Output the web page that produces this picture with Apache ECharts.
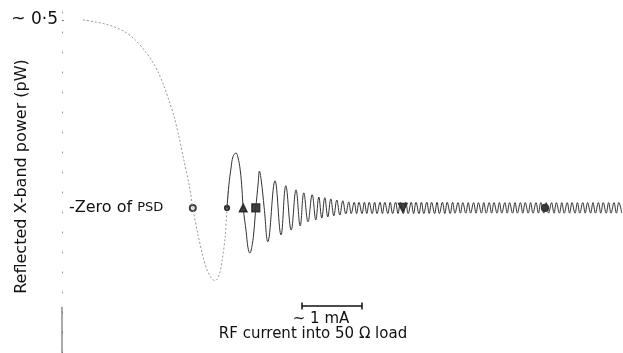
<!DOCTYPE html>
<html>
<head>
<meta charset="utf-8">
<script src="https://cdn.jsdelivr.net/npm/echarts@6/dist/echarts.min.js"></script>
<style>
html,body{margin:0;padding:0;background:#fff}
#chart{width:623px;height:353px}
</style>
</head>
<body>
<div id="chart"></div>
<script>
// x in mA, y in pW (zero = zero of PSD)
var decay=[[0.35,0.500],[0.55,0.495],[0.72,0.489],[0.88,0.481],[1.05,0.468],[1.22,0.447],[1.38,0.418],[1.50,0.391],
    [1.60,0.362],[1.70,0.324],[1.78,0.287],[1.87,0.242],[1.95,0.189],[2.03,0.128],[2.12,0.061],[2.18,0],
    [2.27,-0.074],[2.35,-0.130],[2.43,-0.170],[2.50,-0.189],[2.55,-0.194],[2.62,-0.178],[2.67,-0.138],[2.72,-0.077],
    [2.75,0],[2.78,0.059]];

var ringing=[[2.75,0],[2.78,0.059],[2.82,0.109],[2.85,0.136],[2.90,0.146],[2.93,0.136],[2.97,0.101],[3.00,0.048],
    [3.02,0],[3.07,-0.064],[3.10,-0.106],[3.13,-0.120],[3.17,-0.098],[3.20,-0.059],[3.23,0],[3.27,0.066],[3.29,0.098],
    [3.32,0.074],[3.37,0],[3.43,-0.090],
    [3.55,0.072],[3.65,-0.072],[3.73,0.059],[3.82,-0.059],[3.90,0.048],[3.97,-0.048],[4.03,0.040],[4.10,-0.037],
    [4.17,0.035],[4.23,-0.032],[4.28,0.029],[4.33,-0.027],[4.38,0.027],[4.43,-0.024],[4.48,0.024],[4.53,-0.021],
    [4.58,0.021],[4.63,-0.019],[4.68,0.019],[4.73,-0.016],[4.78,0.016]];

var tail=[[4.82,-0.015],[4.87,0.015],[4.91,-0.015],[4.95,0.015],[5.00,-0.015],[5.04,0.015],[5.08,-0.015],[5.12,0.015],
    [5.17,-0.015],[5.21,0.015],[5.25,-0.015],[5.30,0.015],[5.34,-0.015],[5.38,0.015],[5.43,-0.015],[5.47,0.015],
    [5.51,-0.015],[5.56,0.015],[5.60,-0.015],[5.64,0.015],[5.69,-0.015],[5.73,0.015],[5.77,-0.015],[5.82,0.015],
    [5.86,-0.015],[5.90,0.015],[5.95,-0.015],[5.99,0.015],[6.03,-0.015],[6.08,0.015],[6.12,-0.015],[6.16,0.015],
    [6.21,-0.015],[6.25,0.015],[6.29,-0.015],[6.34,0.015],[6.38,-0.015],[6.42,0.015],[6.47,-0.015],[6.51,0.015],
    [6.55,-0.014],[6.60,0.014],[6.64,-0.014],[6.68,0.014],[6.73,-0.014],[6.77,0.014],[6.81,-0.014],[6.86,0.014],
    [6.90,-0.014],[6.94,0.014],[6.99,-0.014],[7.03,0.014],[7.07,-0.014],[7.12,0.014],[7.16,-0.014],[7.20,0.014],
    [7.25,-0.014],[7.29,0.014],[7.33,-0.014],[7.38,0.014],[7.42,-0.014],[7.46,0.014],[7.51,-0.014],[7.55,0.014],
    [7.59,-0.014],[7.64,0.014],[7.68,-0.014],[7.72,0.014],[7.77,-0.014],[7.81,0.014],[7.85,-0.014],[7.90,0.014],
    [7.94,-0.014],[7.98,0.014],[8.03,-0.014],[8.07,0.014],[8.11,-0.014],[8.16,0.014],[8.20,-0.014],[8.24,0.014],
    [8.29,-0.014],[8.33,0.014],[8.37,-0.014],[8.42,0.014],[8.46,-0.014],[8.50,0.014],[8.55,-0.014],[8.59,0.014],
    [8.63,-0.014],[8.68,0.014],[8.72,-0.014],[8.76,0.014],[8.81,-0.014],[8.85,0.014],[8.89,-0.014],[8.94,0.014],
    [8.98,-0.014],[9.02,0.014],[9.07,-0.014],[9.11,0.014],[9.15,-0.014],[9.20,0.014],[9.24,-0.014],[9.28,0.014],
    [9.33,-0.014]];

var markerX=[2.18,2.75,3.02,3.23,5.68,8.05];
var markerSymbols=['emptyCircle','circle','triangle','rect','triangle','circle'];
var markerSizes=[6,5,8,8,9,7];
var markerRotate=[0,0,0,0,180,0];

var scaleBar=[[4,-0.261],[5,-0.261]];
var axisStub=[[0,-0.263],[0,-0.386]];
var yLabelTicks=[0.5];
var zeroTicks=[0];

var xMin=0, xMax=9.35, yMin=-0.386, yMax=0.553;
var font='DejaVu Sans';

var chart=echarts.init(document.getElementById('chart'));
var option={
    animation:false,
    backgroundColor:'#fff',
    grid:{left:62,right:0,top:0,bottom:0,containLabel:false,outerBoundsMode:'none'},
    xAxis:{type:'value',min:xMin,max:xMax,show:false},
    yAxis:[{
        type:'value',min:yMin,max:yMax,position:'left',
        axisLine:{show:true,lineStyle:{color:'#999',width:1,type:[1,19]}},
        axisTick:{show:true,customValues:yLabelTicks,length:2,inside:true,lineStyle:{color:'#777'}},
        splitLine:{show:false},
        axisLabel:{
            customValues:yLabelTicks,
            margin:4,
            color:'#111',
            fontFamily:font,
            fontSize:17,
            formatter:function(v){return '~ 0·5';}
        },
        name:'Reflected X-band power (pW)',
        nameLocation:'middle',
        nameGap:32,
        nameMoveOverlap:false,
        nameTextStyle:{color:'#111',fontFamily:font,fontSize:16}
    },{
        type:'value',min:yMin,max:yMax,position:'left',
        axisLine:{show:false},axisTick:{show:false},splitLine:{show:false},
        axisLabel:{
            customValues:zeroTicks,
            inside:true,
            margin:7,
            formatter:function(v){return '{a|-Zero of }{b|PSD}';},
            rich:{
                a:{color:'#111',fontFamily:font,fontSize:16},
                b:{color:'#111',fontFamily:font,fontSize:13}
            }
        }
    }],
    graphic:[{
        type:'text',x:313,y:334,
        style:{text:'RF current into 50 Ω load',fill:'#111',font:'15px "DejaVu Sans"',textAlign:'center',textVerticalAlign:'middle'}
    },{
        type:'text',x:321,y:319,
        style:{text:'~ 1 mA',fill:'#111',font:'15px "DejaVu Sans"',textAlign:'center',textVerticalAlign:'middle'}
    }],
    series:[{
        name:'decay',type:'line',data:decay,smooth:0.3,showSymbol:false,
        lineStyle:{color:'#999',width:1,type:[2,2]}
    },{
        name:'ringing',type:'line',data:ringing.concat(tail),smooth:0.4,showSymbol:false,
        lineStyle:{color:'#333',width:1}
    },{
        name:'markers',type:'scatter',
        data:markerX.map(function(x,i){
            return {value:[x,0],symbol:markerSymbols[i],symbolSize:markerSizes[i],symbolRotate:markerRotate[i]};
        }),
        itemStyle:{color:'#111',borderColor:'#111',borderWidth:1.2}
    },{
        name:'scale',type:'line',data:scaleBar,symbol:'rect',symbolSize:[1.5,7],
        lineStyle:{color:'#111',width:1.5},itemStyle:{color:'#111'}
    },{
        name:'axisStub',type:'line',data:axisStub,showSymbol:false,
        lineStyle:{color:'#555',width:1}
    }]
};
chart.setOption(option);
</script>
</body>
</html>
